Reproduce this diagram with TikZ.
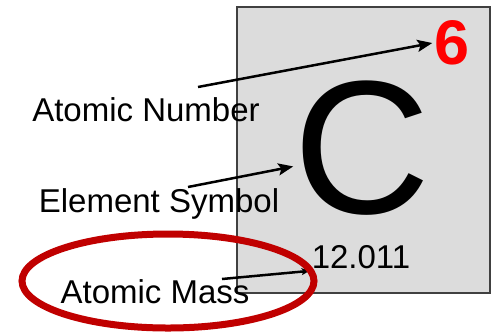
\documentclass[tikz,border=0pt]{standalone}
\usepackage{fontspec}
\setmainfont{Liberation Sans}
\usetikzlibrary{arrows.meta,positioning}
\definecolor{ink}{HTML}{000000}
\definecolor{frame}{HTML}{404040}
\definecolor{cellbg}{HTML}{DCDCDC}
\definecolor{numred}{HTML}{FF0000}
\definecolor{ringred}{HTML}{C00000}
\tikzset{
  cellbox/.style={draw=frame,line width=1.5bp,fill=cellbg,inner sep=0pt},
  lbl/.style={font=\fontsize{33bp}{38bp}\selectfont,text=ink,inner sep=2bp},
  val/.style={font=\fontsize{33bp}{38bp}\selectfont,text=ink,inner sep=2bp},
  numtxt/.style={font=\fontsize{63bp}{70bp}\selectfont\bfseries,text=numred,inner sep=2bp},
  symtxt/.style={font=\fontsize{190bp}{200bp}\selectfont,text=ink,inner sep=0pt},
  ar/.style={-{Stealth[length=15bp,width=12bp,inset=3bp]},draw=ink,line width=2.5bp},
  arsm/.style={-{Stealth[length=8bp,width=7bp,inset=2bp]},draw=ink,line width=2.5bp},
  ring/.style={draw=ringred,line width=7bp},
}
\begin{document}
\begin{tikzpicture}[x=1bp,y=-1bp]
  \useasboundingbox (0,0) rectangle (492,331);
  \node[cellbox,minimum width=253bp,minimum height=286bp] (cell) at (363.5,150) {};
  \node[numtxt] (six) at (452,43) {6};
  \node[symtxt] (sym) at (362,148) {C};
  \node[val] (mass) at (361,257) {12.011};

  \node[lbl] (lnum) at (146,110) {Atomic Number};
  \node[lbl] (lsym) at (159,204) {Element Symbol};
  \node[lbl] (lmass) at (155,292) {Atomic Mass};

  \coordinate (tnum) at (198,87);
  \coordinate (tsym) at (188,187);
  \coordinate (tmass) at (222,279);
  \draw[ar] (tnum) -- (six.west);
  \draw[ar] (tsym) -- (sym.195);
  \draw[arsm] (tmass) -- (mass.south west);

  \draw[ring] (168,281) ellipse [x radius=146, y radius=47];
\end{tikzpicture}
\end{document}
